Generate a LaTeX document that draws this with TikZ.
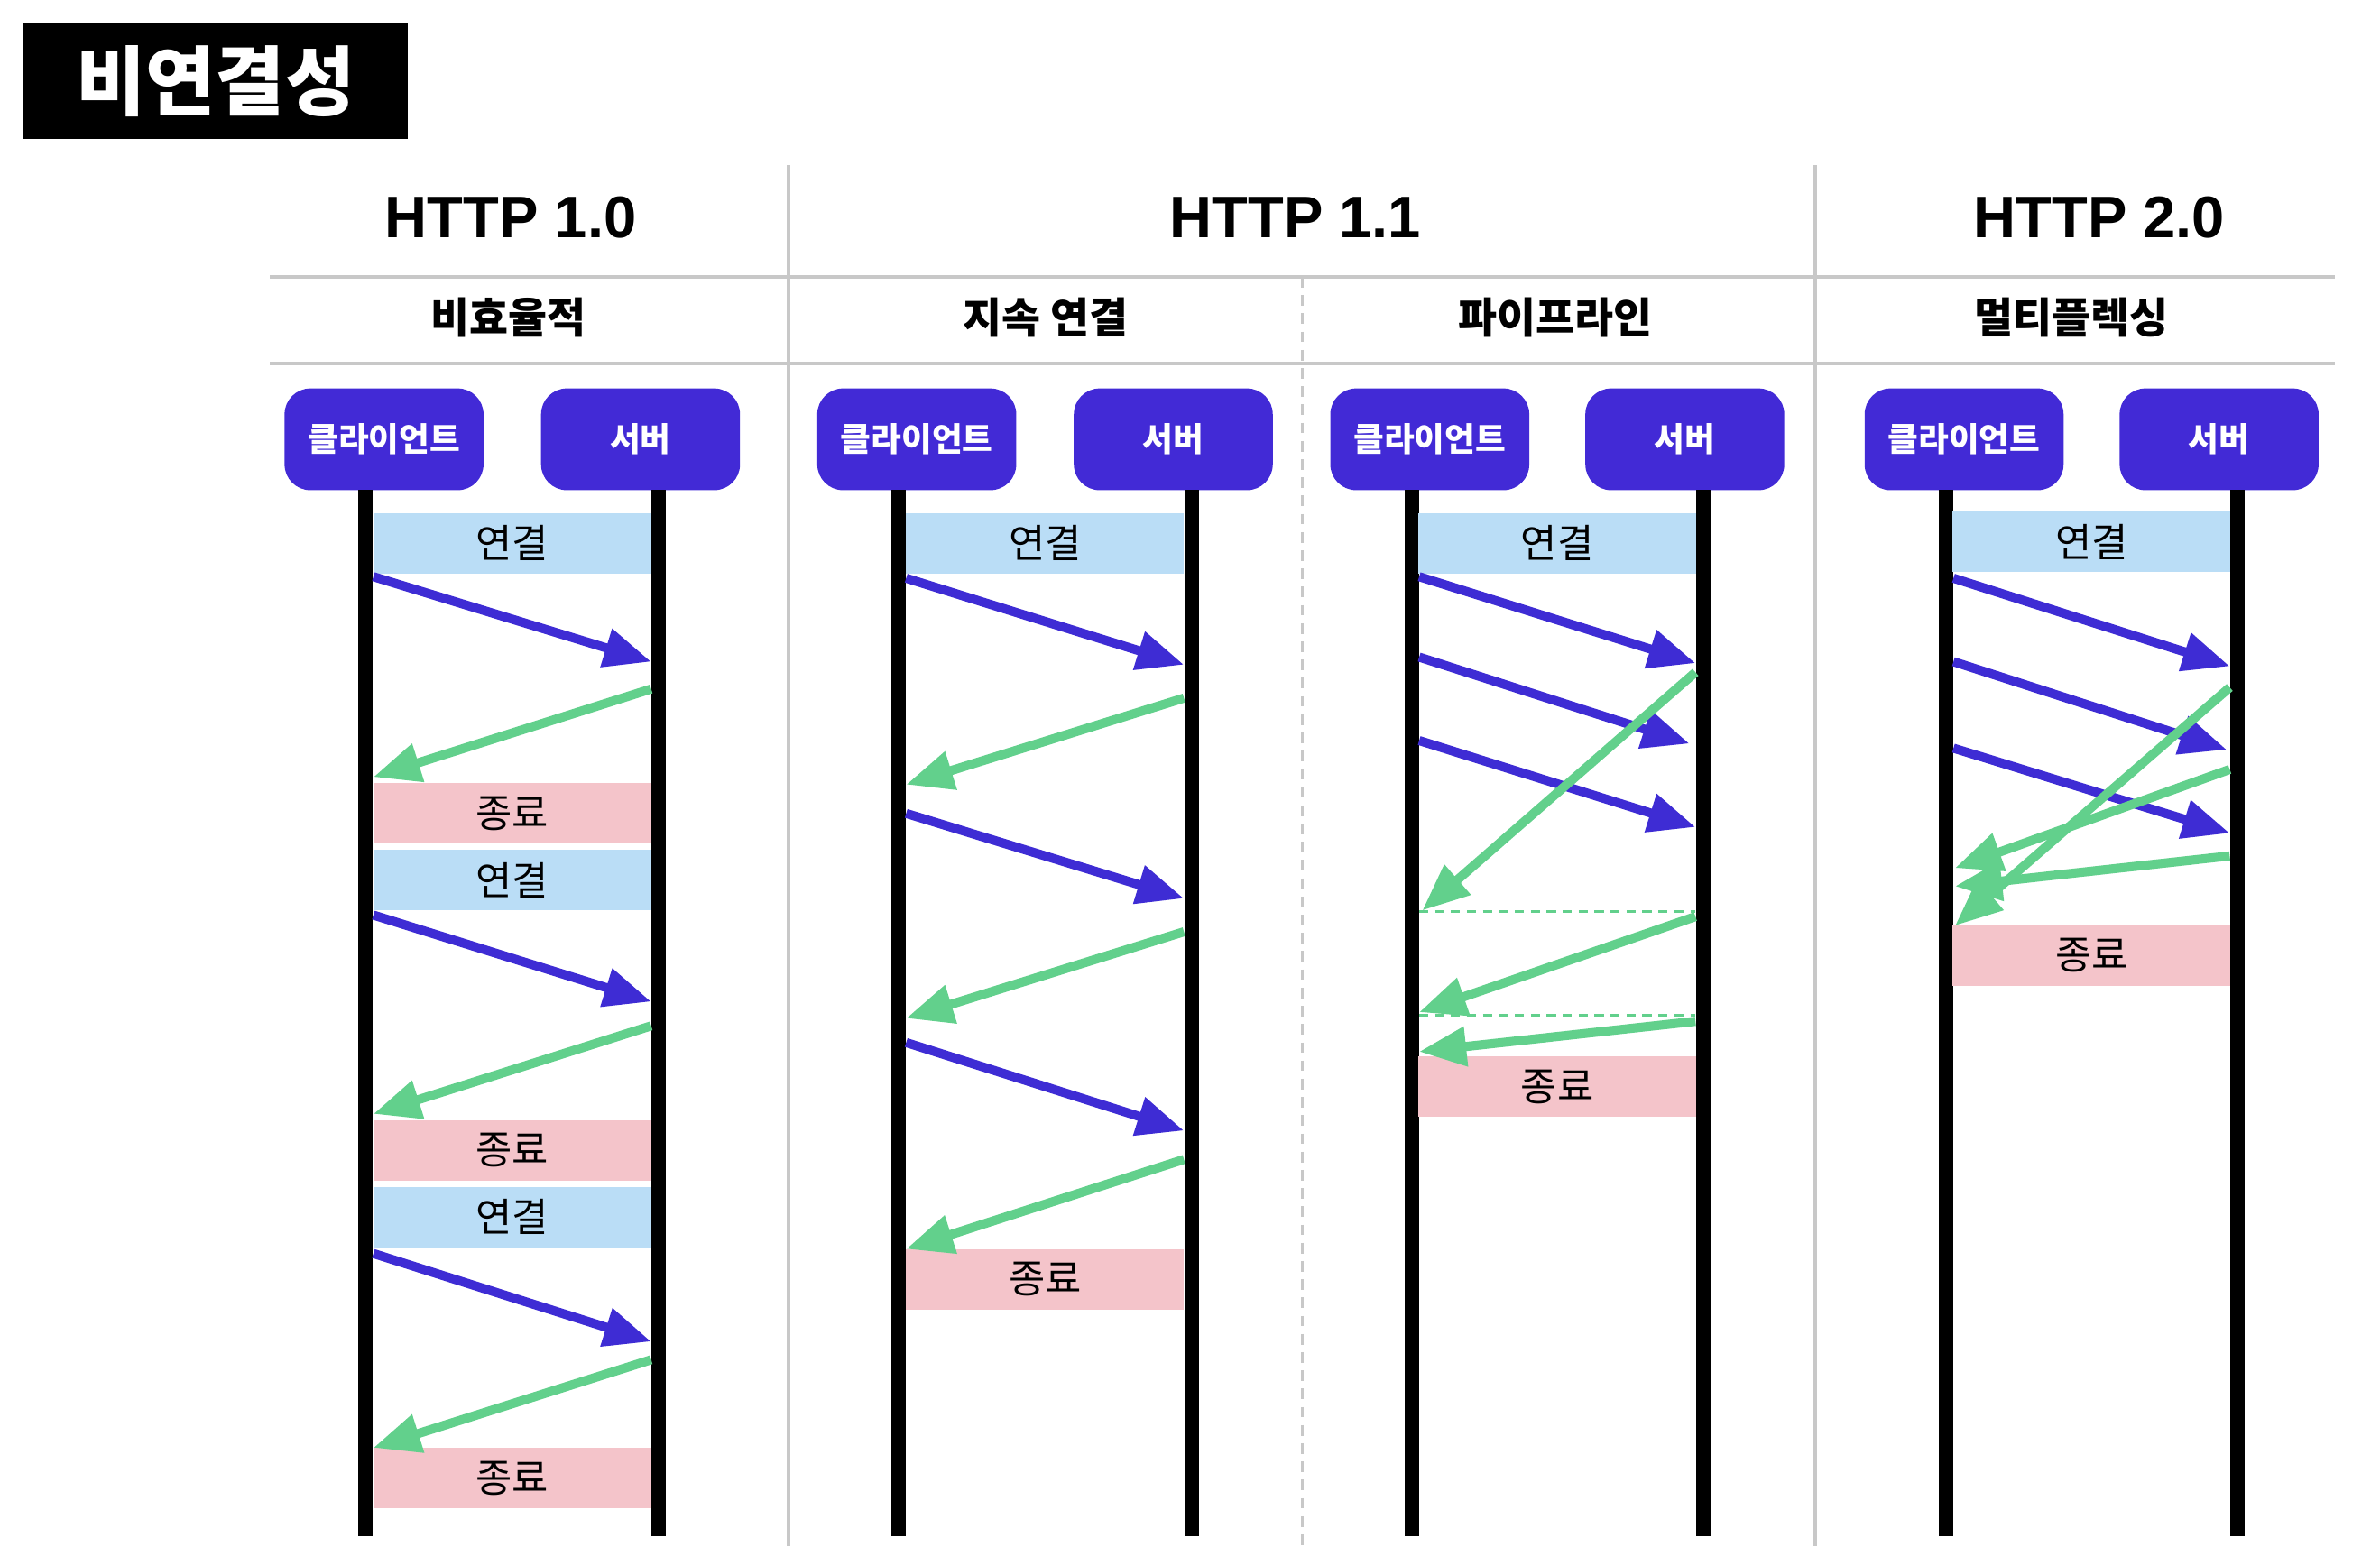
\documentclass[tikz,border=0pt]{standalone}
\usepackage{fontspec}
\setmainfont{Noto Sans CJK KR}
\newfontfamily\httpfont{Liberation Sans}
\usetikzlibrary{arrows.meta}
\definecolor{hostblue}{RGB}{66,42,214}
\definecolor{reqblue}{RGB}{62,44,212}
\definecolor{respgreen}{RGB}{98,208,140}
\definecolor{openband}{RGB}{186,221,246}
\definecolor{closeband}{RGB}{244,196,202}
\definecolor{sepgray}{RGB}{200,200,200}
\tikzset{
  hostbox/.style={fill=hostblue, text=white, rounded corners=0.17cm, minimum width=1.31cm, minimum height=0.67cm, inner sep=0pt, font=\fontsize{6.2}{7}\selectfont\bfseries},
  bandbox/.style={fill=#1, minimum width=1.83cm, minimum height=0.40cm, inner sep=0pt, font=\fontsize{7.4}{8}\selectfont},
  lifeline/.style={line width=0.095cm},
  reqarrow/.style={reqblue, line width=0.06cm, -{Triangle[length=0.31cm,width=0.25cm]}},
  resparrow/.style={respgreen, line width=0.06cm, -{Triangle[length=0.31cm,width=0.25cm]}},
  sepline/.style={sepgray, line width=0.02cm},
  headtext/.style={font=\httpfont\fontsize{11}{12}\selectfont\bfseries},
  subtext/.style={font=\fontsize{7.9}{9}\selectfont\bfseries},
}
\begin{document}
\begin{tikzpicture}[x=0.01cm, y=-0.01cm]
  \useasboundingbox (0,0) rectangle (1568,1019);
  % title
  \node[fill=black, text=white, minimum width=2.53cm, minimum height=0.76cm, font=\fontsize{14.2}{16}\selectfont\bfseries] (title) at (142,53.5) {비연결성};

  % table rules
  \draw[sepline] (178,182.5) -- (1538,182.5);
  \draw[sepline] (178,239.5) -- (1538,239.5);
  \draw[sepline] (519.5,109) -- (519.5,1019);
  \draw[sepline] (1196,109) -- (1196,1019);
  \draw[sepline, dash pattern=on 0.07cm off 0.05cm] (858,182.5) -- (858,1019);

  % headings
  \node[headtext] (h10) at (336.5,143.5) {HTTP 1.0};
  \node[headtext] (h11) at (853.5,143.5) {HTTP 1.1};
  \node[headtext] (h20) at (1383,143.5) {HTTP 2.0};
  \node[subtext] (s10) at (335,209) {비효율적};
  \node[subtext] (s11a) at (689,209) {지속 연결};
  \node[subtext] (s11b) at (1024.5,209) {파이프라인};
  \node[subtext] (s20) at (1365,209) {멀티플렉싱};

  % client / server with lifelines
  \foreach \p/\cx/\sx in {a/241/434, b/592/785, c/930/1122, d/1282/1474} {
    \node[hostbox] (\p cli) at (\cx+12,289.5) {클라이언트};
    \node[hostbox] (\p srv) at (\sx-12,289.5) {서버};
    \draw[lifeline] (\cx,323) coordinate (\p ctop) -- (\cx,1012) coordinate (\p cbot);
    \draw[lifeline] (\sx,323) coordinate (\p stop) -- (\sx,1012) coordinate (\p sbot);
  }

  % HTTP 1.0 : one connection per request
  \foreach \y/\t/\c [count=\i] in {358/연결/openband, 536/종료/closeband, 580/연결/openband, 758/종료/closeband, 802/연결/openband, 974/종료/closeband}
    \node[bandbox=\c] (aband\i) at (337.5,\y) {\t};
  \foreach \ya/\yb/\yc/\yd [count=\i] in {380/436/454/512, 603/660/676/734, 826/884/896/954} {
    \coordinate (aq\i) at (246,\ya); \coordinate (ar\i) at (429,\yb);
    \coordinate (ap\i) at (429,\yc); \coordinate (as\i) at (246,\yd);
    \draw[reqarrow] (aq\i) -- (ar\i);
    \draw[resparrow] (ap\i) -- (as\i);
  }

  % HTTP 1.1 : persistent connection
  \node[bandbox=openband] (bopen) at (688.5,358) {연결};
  \node[bandbox=closeband] (bclose) at (688.5,843) {종료};
  \foreach \ya/\yb/\yc/\yd [count=\i] in {381/438/460/517, 536/592/614/671, 687/745/764/823} {
    \coordinate (bq\i) at (597,\ya); \coordinate (br\i) at (780,\yb);
    \coordinate (bp\i) at (780,\yc); \coordinate (bs\i) at (597,\yd);
    \draw[reqarrow] (bq\i) -- (br\i);
    \draw[resparrow] (bp\i) -- (bs\i);
  }

  % HTTP 1.1 : pipelining
  \node[bandbox=openband] (copen) at (1026,358) {연결};
  \node[bandbox=closeband] (cclose) at (1026,716) {종료};
  \foreach \ya/\yb/\xb [count=\i] in {380/437/1117, 433/490/1113, 488/545/1117} {
    \coordinate (cq\i) at (935,\ya); \coordinate (cr\i) at (\xb,\yb);
    \draw[reqarrow] (cq\i) -- (cr\i);
  }
  \coordinate (cw1) at (935,600.5); \coordinate (cw2) at (1117,600.5);
  \coordinate (cw3) at (935,669); \coordinate (cw4) at (1117,669);
  \draw[respgreen, line width=0.015cm, dash pattern=on 0.06cm off 0.045cm] (cw1) -- (cw2);
  \draw[respgreen, line width=0.015cm, dash pattern=on 0.06cm off 0.045cm] (cw3) -- (cw4);
  \foreach \yc/\yd/\xd [count=\i] in {443/600/937, 604/667/935, 673/693/935} {
    \coordinate (cp\i) at (1117,\yc); \coordinate (cs\i) at (\xd,\yd);
    \draw[resparrow] (cp\i) -- (cs\i);
  }

  % HTTP 2.0 : multiplexing
  \node[bandbox=openband] (dopen) at (1378,357) {연결};
  \node[bandbox=closeband] (dclose) at (1378,629.5) {종료};
  \foreach \ya/\yb/\xb [count=\i] in {381/439/1469, 436/494/1467, 493/549/1469} {
    \coordinate (dq\i) at (1287,\ya); \coordinate (dr\i) at (\xb,\yb);
    \draw[reqarrow] (dq\i) -- (dr\i);
  }
  \foreach \yc/\yd [count=\i] in {453/610, 507/572, 564/584} {
    \coordinate (dp\i) at (1469,\yc); \coordinate (ds\i) at (1288,\yd);
    \draw[resparrow] (dp\i) -- (ds\i);
  }
\end{tikzpicture}
\end{document}
